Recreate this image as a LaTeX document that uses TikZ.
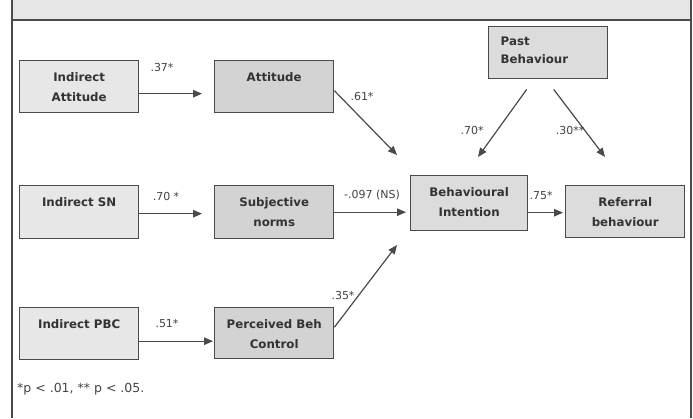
\documentclass[tikz,border=0pt]{standalone}
\usepackage{fontspec}
\setmainfont{DejaVu Sans}
\usetikzlibrary{arrows.meta,calc}
\definecolor{lightbox}{HTML}{E7E7E7}
\definecolor{darkbox}{HTML}{D3D3D3}
\definecolor{midbox}{HTML}{DCDCDC}
\definecolor{edgec}{HTML}{4A4A4A}
\definecolor{txt}{HTML}{333333}
\definecolor{lbl}{HTML}{444444}
\definecolor{band}{HTML}{E6E6E7}
\newcommand{\cbox}[3]{\parbox[c][#2pt][t]{#1pt}{\centering\vspace*{11.5pt}#3\par}}
\newcommand{\lbox}[3]{\parbox[c][#2pt][t]{#1pt}{\raggedright\vspace*{10.5pt}\hspace*{12pt}#3\par}}
\begin{document}
\begin{tikzpicture}[x=1pt,y=-1pt,
  bx/.style={draw=edgec, line width=1.4pt, inner sep=0pt, anchor=north west, text=txt,
             font=\fontsize{11.8}{20}\selectfont\bfseries},
  lt/.style={bx, fill=lightbox},
  dk/.style={bx, fill=darkbox},
  md/.style={bx, fill=midbox},
  arr/.style={draw=edgec, line width=1.2pt, -{Triangle[length=9pt,width=7.5pt]}},
  lab/.style={text=lbl, font=\fontsize{11}{13}\selectfont, inner sep=0pt}]
\useasboundingbox (0,0) rectangle (693,418);
\fill[white] (0,0) rectangle (693,418);
% frame
\fill[band] (12,0) rectangle (691,20);
\draw[edgec, line width=1.5pt] (12,20) -- (691,20);
\draw[edgec, line width=1.5pt] (12,0) -- (12,418);
\draw[edgec, line width=1.5pt] (691,0) -- (691,418);
% boxes
\node[lt] (ia) at (19,60) {\cbox{119}{52}{Indirect\\Attitude}};
\node[dk] (att) at (214,60) {\cbox{119}{52}{Attitude}};
\node[lt] (isn) at (19,185) {\cbox{119}{53}{Indirect SN}};
\node[dk] (sn) at (214,185) {\cbox{119}{53}{Subjective\\norms}};
\node[lt] (ipbc) at (19,307) {\cbox{119}{52}{Indirect PBC}};
\node[dk] (pbc) at (214,307) {\cbox{119}{51}{Perceived Beh\\Control}};
\node[md] (pb) at (488,26) {\lbox{119}{52}{Past\\[-2pt]\hspace*{12pt}Behaviour}};
\node[md] (bi) at (410,175) {\cbox{117}{55}{Behavioural\\Intention}};
\node[md] (rb) at (565,185) {\cbox{119}{52}{Referral\\behaviour}};
% start points and free ends
\coordinate (s1) at ($(ia.east)+(0,7)$);
\coordinate (s2) at ($(isn.east)+(0,1.5)$);
\coordinate (s3) at ($(ipbc.east)+(0,7.5)$);
\coordinate (s9) at ($(bi.east)+(0,9.5)$);
\coordinate (e1) at (397,155);
\coordinate (e2) at (478,157);
\coordinate (e3) at (605,157);
\coordinate (e4) at (397,245);
% connectors
\draw[arr] (s1) -- ($(s1 -| att.west)+(-12,0)$);
\draw[arr] (s2) -- ($(s2 -| sn.west)+(-12,0)$);
\draw[arr] (s3) -- ($(s3 -| pbc.west)+(-1,0)$);
\draw[arr] ($(att.east)+(0,4)$) -- (e1);
\draw[arr] (sn.east) -- ($(sn.east -| bi.west)+(-4,0)$);
\draw[arr] ($(pbc.east)+(0,-6)$) -- (e4);
\draw[arr] ($(pb.south)+(-21.5,10)$) -- (e2);
\draw[arr] ($(pb.south)+(5.5,10)$) -- (e3);
\draw[arr] (s9) -- ($(s9 -| rb.west)+(-2,0)$);
% labels
\node[lab] (l1) at (162,67) {.37*};
\node[lab] (l2) at (166,196) {.70 *};
\node[lab] (l3) at (167,323) {.51*};
\node[lab] (l4) at (362,96) {.61*};
\node[lab] (l5) at (372,195) {-.097 (NS)};
\node[lab] (l6) at (343,295) {.35*};
\node[lab] (l7) at (472,130) {.70*};
\node[lab] (l8) at (570,130) {.30**};
\node[lab] (l9) at (541,195) {.75*};
\node[lab, anchor=west, font=\fontsize{12.5}{14}\selectfont] (fn) at (17,389) {*p < .01, ** p < .05.};
\end{tikzpicture}
\end{document}
